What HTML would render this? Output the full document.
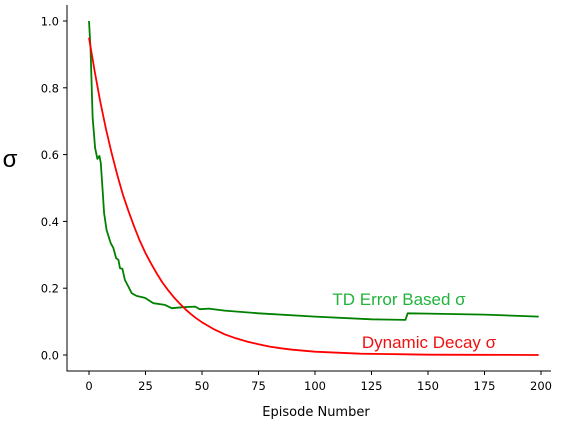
<!DOCTYPE html>
<html><head><meta charset="utf-8"><style>
html,body{margin:0;padding:0;background:#fff;}
svg{display:block;font-family:"DejaVu Sans","Liberation Sans",sans-serif;}
</style></head><body>
<svg id="chart" width="565" height="421" viewBox="0 0 565 421" xmlns="http://www.w3.org/2000/svg">
<g id="axes"></g>
<g id="series"></g>
<text x="10" y="167" font-size="24" text-anchor="middle" font-family="Liberation Sans, sans-serif">σ</text>
<text x="316" y="416" font-size="13" text-anchor="middle">Episode Number</text>
<text x="399" y="305" font-size="17" fill="#22b33b" text-anchor="middle" font-family="Liberation Sans, sans-serif">TD Error Based σ</text>
<text x="429" y="348" font-size="17" fill="#ee1111" text-anchor="middle" font-family="Liberation Sans, sans-serif">Dynamic Decay σ</text>
</svg>
<script>
const xTicks = [0, 25, 50, 75, 100, 125, 150, 175, 200];
const yTicks = [0.0, 0.2, 0.4, 0.6, 0.8, 1.0];
const yTickLabels = ["0.0", "0.2", "0.4", "0.6", "0.8", "1.0"];
const greenX = [0,0.7,1.6,2.7,3.7,4.6,5.2,6.1,6.7,7.8,9.6,10.8,12,13,13.7,14.8,15.9,17.4,18.9,21,24.8,28.5,33.6,36.6,41.7,47,49,53,60,75,100,125,140,141,150,175,199];
const greenY = [1.0,0.913,0.713,0.62,0.587,0.596,0.575,0.485,0.425,0.374,0.335,0.32,0.29,0.285,0.26,0.258,0.225,0.205,0.185,0.177,0.171,0.155,0.150,0.140,0.143,0.145,0.137,0.139,0.133,0.125,0.115,0.107,0.105,0.125,0.124,0.121,0.115];
const redX = [0,2.5,5,7.5,10,12.5,15,17.5,20,22.5,25,27.5,30,32.5,35,37.5,40,42.5,45,47.5,50,52.5,55,57.5,60,65,70,75,80,85,90,95,100,110,120,130,140,150,170,199];
const redY = [0.95,0.849,0.758,0.676,0.605,0.539,0.480,0.430,0.384,0.342,0.305,0.273,0.244,0.217,0.194,0.173,0.155,0.138,0.123,0.110,0.098,0.088,0.078,0.070,0.062,0.050,0.040,0.032,0.025,0.020,0.016,0.013,0.010,0.007,0.004,0.003,0.002,0.001,0.0005,0.0001];

const NS = "http://www.w3.org/2000/svg";
function sx(v){ return 89 + v * (541 - 89) / 200; }
function sy(v){ return 355 - v * 334; }
const axes = document.getElementById('axes');
const series = document.getElementById('series');
function mk(tag, attrs, parent){
  const e = document.createElementNS(NS, tag);
  for (const k in attrs) e.setAttribute(k, attrs[k]);
  parent.appendChild(e);
  return e;
}
const ls = mk('line', {x1:67, y1:5, x2:67, y2:371.5, stroke:'#000', 'stroke-width':1}, axes);


const bs = mk('line', {x1:66.5, y1:371, x2:551, y2:371, stroke:'#000', 'stroke-width':1}, axes);


xTicks.forEach(function(t){
  const x = sx(t);
  const tk = mk('line', {x1:x, y1:371, x2:x, y2:375, stroke:'#000'}, axes);
  
  
  const tl = mk('text', {x:x, y:390, 'font-size':11.5, 'text-anchor':'middle'}, axes);
  tl.textContent = String(t);
  
  
});
yTicks.forEach(function(t, i){
  const y = sy(t);
  const tk = mk('line', {x1:63, y1:y, x2:67, y2:y, stroke:'#000'}, axes);
  
  
  const tl = mk('text', {x:59, y:y + 4.5, 'font-size':11.5, 'text-anchor':'end'}, axes);
  tl.textContent = yTickLabels[i];
  
  
});
function path(xs, ys){
  return xs.map(function(x, i){ return (i ? 'L' : 'M') + sx(x).toFixed(1) + ',' + sy(ys[i]).toFixed(1); }).join(' ');
}
const g = mk('path', {d:path(greenX, greenY), fill:'none', stroke:'#008000', 'stroke-width':1.8, 'stroke-linejoin':'round'}, series);


const r = mk('path', {d:path(redX, redY), fill:'none', stroke:'#ff0000', 'stroke-width':1.8, 'stroke-linejoin':'round'}, series);


</script>
</body></html>
